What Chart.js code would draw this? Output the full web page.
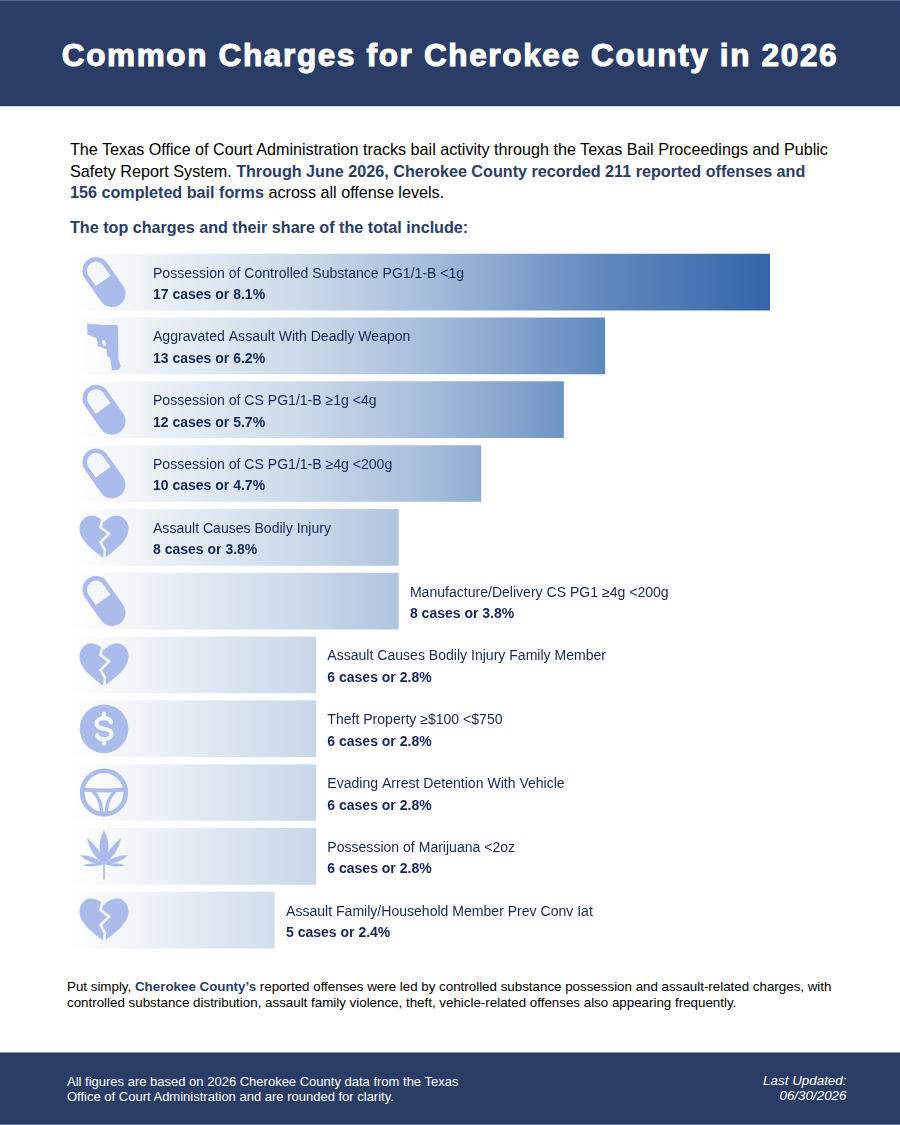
<!DOCTYPE html>
<html>
<head>
<meta charset="utf-8">
<title>Common Charges for Cherokee County in 2026</title>
<script src="https://cdn.jsdelivr.net/npm/chart.js@4"></script>
<style>
  html, body { margin: 0; padding: 0; background: #fff; }
  body { position: relative; width: 900px; height: 1125px; overflow: hidden; font-family: "Liberation Sans", Arial, sans-serif; color: #000; }
  .band { position: absolute; left: 0; width: 900px; background: #2a3d66; }
  #top { top: 0; height: 105px; border-top: 1px solid #5a6a8c; border-bottom: 1px solid #d5d9e2; box-sizing: content-box; }
  #bottom { top: 1052px; height: 71px; border-top: 1px solid #8c98b0; border-bottom: 1px solid #6b7a99; }
  h1 { position: absolute; left: 0; width: 900px; top: 34px; margin: 0; text-align: center; color: #fff; font-size: 31.5px; line-height: 40px; font-weight: bold; letter-spacing: 1.65px; -webkit-text-stroke: 1.1px #fff; }
  .line { position: absolute; white-space: nowrap; }
  .intro { left: 70px; font-size: 16.17px; line-height: 22px; }
  .intro b, .outro b { color: #2a3d66; }
  .sub { left: 70px; top: 216px; font-size: 16.15px; line-height: 22px; font-weight: bold; color: #2a3d66; }
  .outro { left: 67px; font-size: 13.35px; line-height: 16px; }
  .foot { left: 67px; font-size: 13px; line-height: 15px; color: #fff; }
  .stamp { right: 53.5px; font-size: 13.4px; line-height: 15px; color: #fff; font-style: italic; text-align: right; }
  #chartBox { position: absolute; left: 0; top: 250px; width: 900px; height: 702px; }
</style>
</head>
<body>
<div class="band" id="top"><h1>Common Charges for Cherokee County in 2026</h1></div>

<div class="line intro" style="top:138px">The Texas Office of Court Administration tracks bail activity through the Texas Bail Proceedings and Public</div>
<div class="line intro" style="top:160px">Safety Report System. <b>Through June 2026, Cherokee County recorded 211 reported offenses and</b></div>
<div class="line intro" style="top:181px"><b>156 completed bail forms</b> across all offense levels.</div>
<div class="line sub">The top charges and their share of the total include:</div>

<div id="chartBox"><canvas id="chargesChart"></canvas></div>

<div class="line outro" style="top:979px">Put simply, <b>Cherokee County’s</b> reported offenses were led by controlled substance possession and assault-related charges, with</div>
<div class="line outro" style="top:995px">controlled substance distribution, assault family violence, theft, vehicle-related offenses also appearing frequently.</div>

<div class="band" id="bottom"></div>
<div class="line foot" style="top:1074px">All figures are based on 2026 Cherokee County data from the Texas</div>
<div class="line foot" style="top:1089px">Office of Court Administration and are rounded for clarity.</div>
<div class="line stamp" style="top:1073px">Last Updated:</div>
<div class="line stamp" style="top:1088px">06/30/2026</div>

<script>
const charges = [
    'Possession of Controlled Substance PG1/1-B <1g',
    'Aggravated Assault With Deadly Weapon',
    'Possession of CS PG1/1-B ≥1g <4g',
    'Possession of CS PG1/1-B ≥4g <200g',
    'Assault Causes Bodily Injury',
    'Manufacture/Delivery CS PG1 ≥4g <200g',
    'Assault Causes Bodily Injury Family Member',
    'Theft Property ≥$100 <$750',
    'Evading Arrest Detention With Vehicle',
    'Possession of Marijuana <2oz',
    'Assault Family/Household Member Prev Conv Iat'
];
const caseCounts = [17, 13, 12, 10, 8, 8, 6, 6, 6, 6, 5];
const sharePct = ['8.1', '6.2', '5.7', '4.7', '3.8', '3.8', '2.8', '2.8', '2.8', '2.8', '2.4'];
const chargeIcons = ['pill', 'gun', 'pill', 'pill', 'heart', 'pill', 'heart', 'dollar', 'wheel', 'leaf', 'heart'];

const ICON_COLOR = '#abbbec';
const CUT_COLOR = '#f3f6fa';
const TEXT_COLOR = '#14275a';

function polygon(ctx, pts) {
    ctx.beginPath();
    pts.forEach((p, i) => i ? ctx.lineTo(p[0], p[1]) : ctx.moveTo(p[0], p[1]));
    ctx.closePath();
}

const iconDrawers = {
    pill(ctx) {
        ctx.rotate(-35 * Math.PI / 180);
        ctx.fillStyle = ICON_COLOR;
        ctx.beginPath();
        ctx.arc(0, -14, 13.5, Math.PI, 0);
        ctx.arc(0, 14, 13.5, 0, Math.PI);
        ctx.closePath();
        ctx.fill();
        ctx.fillStyle = CUT_COLOR;
        ctx.beginPath();
        ctx.arc(0, -14, 9, Math.PI, 0);
        ctx.lineTo(9, -1.5);
        ctx.lineTo(-9, -1.5);
        ctx.closePath();
        ctx.fill();
    },
    gun(ctx) {
        ctx.fillStyle = ICON_COLOR;
        polygon(ctx, [[-16.7, -24], [-15, -22], [4, -21], [12.7, -21], [14, -19], [14.5, 14], [16.7, 20], [15, 23.5], [8, 24.5], [6, 11.7], [3.3, 10.7], [2.7, 3.3], [-6, 0], [-7.3, -7.3], [-16.7, -11.7]]);
        ctx.fill();
        ctx.fillStyle = CUT_COLOR;
        ctx.beginPath();
        ctx.ellipse(0, -3, 1.8, 3, -0.4, 0, Math.PI * 2);
        ctx.fill();
    },
    heart(ctx) {
        ctx.fillStyle = ICON_COLOR;
        ctx.beginPath();
        ctx.moveTo(0, -15);
        ctx.bezierCurveTo(-4, -20, -9, -21.5, -13, -21.5);
        ctx.bezierCurveTo(-20, -21.5, -24.5, -15, -24.5, -8.5);
        ctx.bezierCurveTo(-24.5, 4, -9, 14, 0, 21.5);
        ctx.bezierCurveTo(9, 14, 24.5, 4, 24.5, -8.5);
        ctx.bezierCurveTo(24.5, -15, 20, -21.5, 13, -21.5);
        ctx.bezierCurveTo(9, -21.5, 4, -20, 0, -15);
        ctx.closePath();
        ctx.fill();
        ctx.strokeStyle = CUT_COLOR;
        ctx.lineWidth = 2.6;
        ctx.lineJoin = 'miter';
        ctx.beginPath();
        ctx.moveTo(-1, -20);
        ctx.lineTo(-3.5, -10);
        ctx.lineTo(5, -3.5);
        ctx.lineTo(-3.5, 5);
        ctx.lineTo(1, 13);
        ctx.lineTo(0, 23);
        ctx.stroke();
    },
    dollar(ctx) {
        ctx.fillStyle = ICON_COLOR;
        ctx.beginPath();
        ctx.arc(0, 0, 24.3, 0, Math.PI * 2);
        ctx.fill();
        ctx.strokeStyle = CUT_COLOR;
        ctx.lineWidth = 4.2;
        ctx.lineCap = 'round';
        ctx.beginPath();
        ctx.moveTo(7, -6.5);
        ctx.bezierCurveTo(6, -10, 3, -10.5, 0, -10.5);
        ctx.bezierCurveTo(-4, -10.5, -7.5, -8.5, -7.5, -5);
        ctx.bezierCurveTo(-7.5, -1, -3, -0.5, 0, 0);
        ctx.bezierCurveTo(3, 0.5, 7.5, 1, 7.5, 5);
        ctx.bezierCurveTo(7.5, 8.5, 4, 10.5, 0, 10.5);
        ctx.bezierCurveTo(-3, 10.5, -6, 10, -7, 6.5);
        ctx.moveTo(0, -15);
        ctx.lineTo(0, -10.5);
        ctx.moveTo(0, 10.5);
        ctx.lineTo(0, 15);
        ctx.stroke();
    },
    wheel(ctx) {
        ctx.strokeStyle = ICON_COLOR;
        ctx.lineWidth = 4.6;
        ctx.beginPath();
        ctx.arc(0, 0, 21.8, 0, Math.PI * 2);
        ctx.stroke();
        ctx.lineWidth = 4;
        ctx.beginPath();
        ctx.moveTo(-21, -3);
        ctx.quadraticCurveTo(0, -1, 21, -3);
        ctx.stroke();
        ctx.lineWidth = 3.4;
        ctx.beginPath();
        ctx.moveTo(-11, -1);
        ctx.quadraticCurveTo(-3, 6, -2, 21);
        ctx.moveTo(11, -1);
        ctx.quadraticCurveTo(3, 6, 2, 21);
        ctx.stroke();
    },
    leaf(ctx) {
        ctx.fillStyle = ICON_COLOR;
        const leaflets = [[0, -26, 5.6], [17, -18, 4], [-17, -18, 4], [24, -1, 3.3], [-24, -1, 3.3], [22, 9, 2], [-22, 9, 2]];
        leaflets.forEach(([tx, ty, w]) => {
            const bx = 0, by = 8;
            const mx = (bx + tx) / 2, my = (by + ty) / 2;
            const len = Math.hypot(tx - bx, ty - by);
            const nx = -(ty - by) / len * w * 1.6, ny = (tx - bx) / len * w * 1.6;
            ctx.beginPath();
            ctx.moveTo(bx, by);
            ctx.quadraticCurveTo(mx + nx, my + ny, tx, ty);
            ctx.quadraticCurveTo(mx - nx, my - ny, bx, by);
            ctx.fill();
        });
        ctx.fillRect(-0.8, 6, 1.6, 17);
    }
};

const rowDecor = {
    id: 'rowDecor',
    afterDatasetsDraw(chart) {
        const ctx = chart.ctx;
        const barLeft = chart.scales.x.left;
        chart.getDatasetMeta(0).data.forEach((bar, i) => {
            ctx.save();
            ctx.translate(barLeft + 34, bar.y);
            iconDrawers[chargeIcons[i]](ctx);
            ctx.restore();

            ctx.save();
            ctx.textBaseline = 'alphabetic';
            ctx.fillStyle = TEXT_COLOR;
            ctx.font = '14.05px "Liberation Sans", Arial, sans-serif';
            // the label sits inside the bar when it fits, otherwise just past the end
            const inside = barLeft + 83 + ctx.measureText(charges[i]).width < bar.x - 12;
            const textX = inside ? barLeft + 83 : bar.x + 11.6;
            ctx.fillText(charges[i], textX, Math.round(bar.y - 4.5));
            ctx.font = 'bold 14px "Liberation Sans", Arial, sans-serif';
            ctx.fillText(`${caseCounts[i]} cases or ${sharePct[i]}%`, textX, Math.round(bar.y + 17));
            ctx.restore();
        });
    }
};

function barGradient(context) {
    const chart = context.chart;
    if (!chart.chartArea) return '#a9bfdc';
    const g = chart.ctx.createLinearGradient(chart.chartArea.left, 0, chart.chartArea.right, 0);
    g.addColorStop(0, '#ffffff');
    g.addColorStop(0.35, '#c8d7e8');
    g.addColorStop(0.5, '#a9bfdc');
    g.addColorStop(0.76, '#6189bf');
    g.addColorStop(1, '#3566a8');
    return g;
}

new Chart(document.getElementById('chargesChart').getContext('2d'), {
    type: 'bar',
    data: {
        labels: charges,
        datasets: [{
            data: caseCounts,
            backgroundColor: barGradient,
            borderWidth: 0,
            barThickness: 56
        }]
    },
    options: {
        indexAxis: 'y',
        responsive: true,
        maintainAspectRatio: false,
        animation: false,
        layout: { padding: { left: 70, right: 130, top: 0.2, bottom: 0 } },
        plugins: { legend: { display: false }, tooltip: { enabled: false } },
        scales: {
            x: { display: false, min: 0.05, max: 17 },
            y: { display: false }
        }
    },
    plugins: [rowDecor]
});
</script>
</body>
</html>
